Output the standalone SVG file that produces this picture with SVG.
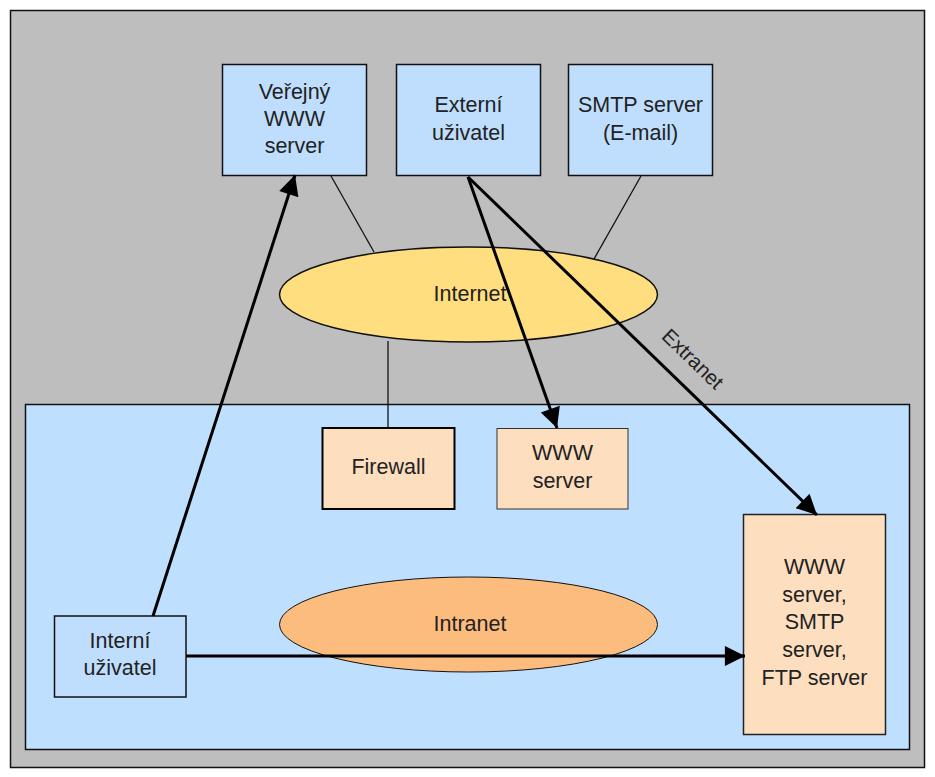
<svg xmlns="http://www.w3.org/2000/svg" width="935" height="777" viewBox="0 0 935 777">
<defs>
<marker id="ah" viewBox="0 0 10 10" refX="10" refY="5" markerWidth="7.5" markerHeight="6.7" markerUnits="strokeWidth" orient="auto">
<path d="M0,0 L10,5 L0,10 z" fill="#000"/>
</marker>
<style>
text{font-family:"Liberation Sans",Arial,sans-serif;font-size:21.5px;fill:#222;text-anchor:middle}
.blue{fill:#BFDEFD;stroke:#111;stroke-width:1.5}
.peach{fill:#FDDEBF;stroke:#222;stroke-width:1.5}
.thin{stroke:#111;stroke-width:1.3;fill:none}
.thick{stroke:#000;stroke-width:3;fill:none}
</style>
</defs>
<rect x="0" y="0" width="935" height="777" fill="#fff"/>
<g id="outer"><rect x="10.5" y="10.5" width="914" height="757" fill="#BEBEBE" stroke="#111" stroke-width="1.5"/></g>
<g id="intranet-zone"><rect x="25.5" y="404.5" width="884" height="345" fill="#BFDFFF" stroke="#111" stroke-width="1.5"/></g>
<g id="connectors">
<line class="thin" x1="331" y1="176" x2="374" y2="252"/>
<line class="thin" x1="641" y1="176" x2="594" y2="259"/>
<line class="thin" x1="388" y1="341" x2="388" y2="428"/>
</g>
<g id="internet"><ellipse cx="468.5" cy="294.5" rx="189" ry="47.5" fill="#FFDE80" stroke="#111" stroke-width="1.5"/><text x="470" y="301">Internet</text></g>
<g id="intranet"><ellipse cx="468.5" cy="624.5" rx="189" ry="47.5" fill="#FCBC7D" stroke="#111" stroke-width="1"/><text x="470" y="631">Intranet</text></g>
<g id="verejny"><rect class="blue" x="222.5" y="64.5" width="144" height="111"/><text x="294.5" y="99">Veřejný</text><text x="294.5" y="126">WWW</text><text x="294.5" y="153">server</text></g>
<g id="externi"><rect class="blue" x="396.5" y="64.5" width="144" height="111"/><text x="468.5" y="112">Externí</text><text x="468.5" y="140">uživatel</text></g>
<g id="smtp"><rect class="blue" x="568.5" y="64.5" width="144" height="111"/><text x="640.5" y="112">SMTP server</text><text x="640.5" y="140">(E-mail)</text></g>
<g id="firewall"><rect x="322.5" y="428" width="132" height="81" fill="#FDDEBF" stroke="#000" stroke-width="2"/><text x="388.5" y="474">Firewall</text></g>
<g id="www"><rect x="497" y="428.5" width="131" height="80.5" fill="#FDDEBF" stroke="#333" stroke-width="1"/><text x="562.5" y="460">WWW</text><text x="562.5" y="488">server</text></g>
<g id="interni"><rect class="blue" x="54.5" y="616" width="131.5" height="81"/><text x="120" y="648">Interní</text><text x="120" y="675">uživatel</text></g>
<g id="servers"><rect class="peach" x="743.5" y="514.5" width="142" height="220"/><text x="814.5" y="574">WWW</text><text x="814.5" y="602">server,</text><text x="814.5" y="629">SMTP</text><text x="814.5" y="657">server,</text><text x="814.5" y="685">FTP server</text></g>
<g id="arrows">
<line class="thick" x1="153" y1="616" x2="295" y2="175" marker-end="url(#ah)"/>
<line class="thick" x1="468" y1="177" x2="557" y2="428" marker-end="url(#ah)"/>
<line class="thick" x1="468" y1="177" x2="817" y2="515" marker-end="url(#ah)"/>
<line class="thick" x1="186" y1="656" x2="745" y2="656" marker-end="url(#ah)"/>
<text x="688" y="364" transform="rotate(44.1 688 364)" style="font-size:20.5px">Extranet</text>
</g>
</svg>
